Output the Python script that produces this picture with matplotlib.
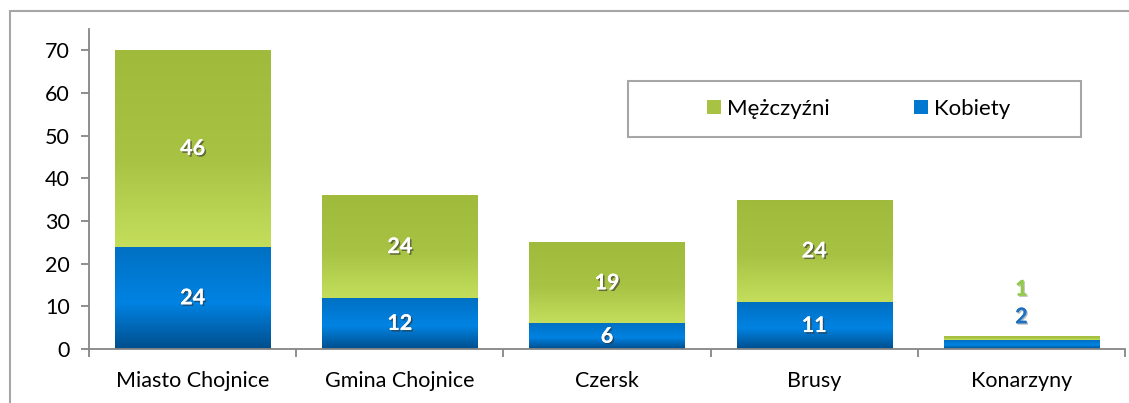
import matplotlib.pyplot as plt
import matplotlib.patheffects as pe
from matplotlib.colors import LinearSegmentedColormap
from matplotlib.patches import Patch, Rectangle
import numpy as np

plt.rcParams['font.family'] = ['Lato', 'DejaVu Sans']

categories = ['Miasto Chojnice', 'Gmina Chojnice', 'Czersk', 'Brusy', 'Konarzyny']
kobiety = [24, 12, 6, 11, 2]
mezczyzni = [46, 24, 19, 24, 1]

# gradients (top -> bottom)
blue_cmap = LinearSegmentedColormap.from_list('b', [(0, '#0070C2'), (0.55, '#0083E3'), (1, '#004E8C')])
green_cmap = LinearSegmentedColormap.from_list('g', [(0, '#A0BA3C'), (0.55, '#A8C244'), (1, '#C4DE5C')])

fig = plt.figure(figsize=(11.29, 4.03), dpi=100)
ax = fig.add_axes([89 / 1129, 1 - 349 / 403, (1125 - 89) / 1129, (349 - 29) / 403])

# outer chart frame (partly outside the picture)
fig.add_artist(Rectangle((10 / 1129, -0.1), 1.2, 1 - 11 / 403 + 0.1, transform=fig.transFigure,
                         fill=False, edgecolor='#A6A6A6', linewidth=1.5))

x = np.arange(len(categories))
w = 0.75
grad = np.linspace(0, 1, 256).reshape(-1, 1)


def grad_bars(bars, cmap):
    for b in bars:
        x0, y0 = b.get_x(), b.get_y()
        im = ax.imshow(grad, cmap=cmap, aspect='auto', origin='upper',
                       extent=(x0, x0 + b.get_width(), y0, y0 + b.get_height()), zorder=2)
        im.set_clip_path(b)


b1 = ax.bar(x, kobiety, w, color='#0078D0', linewidth=0, zorder=2)
b2 = ax.bar(x, mezczyzni, w, bottom=kobiety, color='#A8C244', linewidth=0, zorder=2)
grad_bars(b1, blue_cmap)
grad_bars(b2, green_cmap)

shadow = [pe.withSimplePatchShadow(offset=(1.2, -1.2), shadow_rgbFace='#333333', alpha=0.6), pe.Normal()]
for i in range(len(categories)):
    if kobiety[i] + mezczyzni[i] > 10:
        ax.text(x[i], kobiety[i] / 2, str(kobiety[i]), ha='center', va='center', color='white',
                fontsize=15.5, fontweight='bold', path_effects=shadow, zorder=4)
        ax.text(x[i], kobiety[i] + mezczyzni[i] / 2, str(mezczyzni[i]), ha='center', va='center',
                color='white', fontsize=15.5, fontweight='bold', path_effects=shadow, zorder=4)
    else:
        top = kobiety[i] + mezczyzni[i]
        ax.annotate(str(kobiety[i]), (x[i], top), xytext=(0, 14), textcoords='offset points',
                    ha='center', va='center', color='#1F70C0', fontsize=15.5, fontweight='bold',
                    path_effects=[pe.withSimplePatchShadow(offset=(1, -1), alpha=0.3), pe.Normal()])
        ax.annotate(str(mezczyzni[i]), (x[i], top), xytext=(0, 34), textcoords='offset points',
                    ha='center', va='center', color='#92C948', fontsize=15.5, fontweight='bold',
                    path_effects=[pe.withSimplePatchShadow(offset=(1, -1), alpha=0.3), pe.Normal()])

ax.set_xlim(-0.5, len(categories) - 0.5)
ax.set_ylim(0, 75)
ax.set_yticks(range(0, 71, 10))
ax.set_xticks(x)
ax.set_xticklabels(categories)
ax.set_xticks(np.arange(-0.5, len(categories), 1), minor=True)
ax.tick_params(axis='x', which='major', length=0, pad=16, labelsize=15.5)
ax.tick_params(axis='x', which='minor', length=6, color='#868686', width=1.3)
ax.tick_params(axis='y', length=6, color='#868686', width=1.3, labelsize=15.5, pad=8)
for s in ['top', 'right']:
    ax.spines[s].set_visible(False)
for s in ['left', 'bottom']:
    ax.spines[s].set_color('#868686')
    ax.spines[s].set_linewidth(1.3)

# legend box
fig.add_artist(Rectangle((628 / 1129, 1 - 137 / 403), (1081 - 628) / 1129, 56 / 403,
                         transform=fig.transFigure, facecolor='white', edgecolor='#A6A6A6',
                         linewidth=1.5, zorder=5))
handles = [Patch(facecolor='#A8C244'), Patch(facecolor='#0078D0')]
leg = fig.legend(handles, ['Mężczyźni', 'Kobiety'], loc='center', ncol=2, frameon=False,
                 bbox_to_anchor=(859 / 1129, 1 - 109 / 403), fontsize=16, columnspacing=3.8,
                 handlelength=0.6, handleheight=0.6, handletextpad=0.3)
leg.set_zorder(6)

fig.savefig('out.png', dpi=100)
